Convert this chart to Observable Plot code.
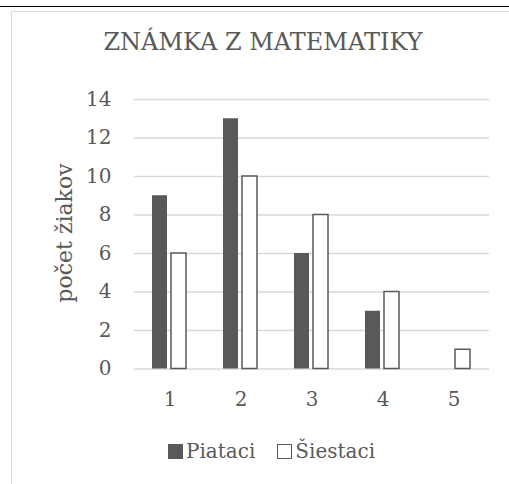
<!DOCTYPE html>
<html>
<head>
<meta charset="utf-8">
<script src="https://cdn.jsdelivr.net/npm/d3@7"></script>
<script src="https://cdn.jsdelivr.net/npm/@observablehq/plot@0.6"></script>
<style>
  html, body { margin: 0; padding: 0; background: #fff; overflow: hidden; }
  #wrap { position: relative; width: 509px; height: 484px; overflow: hidden; font-family: "DejaVu Serif", serif; color: #595959; }
  #topline { position: absolute; left: 0; top: 6px; width: 509px; height: 0; border-top: 1.6px solid #000; }
  #frame { position: absolute; left: 11px; top: 11px; width: 498px; height: 473px; border-left: 1.5px solid #d9d9d9; border-top: 1.5px solid #d9d9d9; box-sizing: border-box; }
  #chart { position: absolute; left: 0; top: 0; }
  #overlay { position: absolute; left: 0; top: 0; }
  #legend { position: absolute; left: 168px; top: 441px; font-size: 20px; line-height: 20px; white-space: nowrap; display: flex; align-items: center; }
  .sw { display: inline-block; width: 15px; height: 15px; box-sizing: border-box; margin-right: 3px; }
  .item { display: flex; align-items: center; margin-right: 22px; }
</style>
</head>
<body>
<div id="wrap">
  <div id="topline"></div>
  <div id="frame"></div>
  <div id="chart"></div>
  <svg id="overlay" width="509" height="484" style="font-family:'DejaVu Serif', serif; fill:#595959">
    <text id="title" x="263" y="50" text-anchor="middle" font-size="24"></text>
    <text id="ylabel" x="0" y="0" text-anchor="middle" font-size="22" transform="translate(72,233) rotate(-90)"></text>
  </svg>
  <div id="legend"></div>
</div>
<script>
const titleText = "ZNÁMKA Z MATEMATIKY";
const yLabelText = "počet žiakov";
const categories = ["1", "2", "3", "4", "5"];
const seriesNames = ["Piataci", "Šiestaci"];
const piataci = [9, 13, 6, 3, 0];
const siestaci = [6, 10, 8, 4, 1];
const yTicks = [0, 2, 4, 6, 8, 10, 12, 14];
const seriesFill = ["#595959", "#ffffff"];
const seriesStroke = ["none", "#595959"];

const table = [];
categories.forEach((c, i) => {
  table.push({cat: c, series: seriesNames[0], value: piataci[i]});
  table.push({cat: c, series: seriesNames[1], value: siestaci[i]});
});

const plot = Plot.plot({
  width: 509,
  height: 430,
  marginTop: 99,
  marginBottom: 61.5,
  marginLeft: 132,
  marginRight: 19,
  style: {fontFamily: "'DejaVu Serif', serif", fontSize: "20px", color: "#595959", background: "transparent", overflow: "visible"},
  facet: {data: table, x: "cat"},
  fx: {domain: categories, padding: 0, axis: "bottom", tickSize: 0, tickPadding: 23, label: null},
  x: {domain: seriesNames, paddingInner: 0.2, paddingOuter: 0.89, axis: null},
  y: {domain: [0, 14], ticks: yTicks, tickSize: 0, tickPadding: 23, label: null, tickFormat: d => String(d)},
  color: {domain: seriesNames, range: seriesFill},
  marks: [
    Plot.ruleY(yTicks, {stroke: "#d9d9d9", strokeWidth: 1.5}),
    Plot.barY(table, {
      x: "series", y: "value", fill: "series",
      stroke: d => d.series === seriesNames[1] ? seriesStroke[1] : seriesStroke[0],
      strokeWidth: 1.5
    })
  ]
});
document.getElementById("chart").appendChild(plot);

document.getElementById("title").textContent = titleText;
document.getElementById("ylabel").textContent = yLabelText;

const legend = document.getElementById("legend");
seriesNames.forEach((name, i) => {
  const item = document.createElement("span");
  item.className = "item";
  const sw = document.createElement("span");
  sw.className = "sw";
  sw.style.background = seriesFill[i];
  if (seriesStroke[i] !== "none") sw.style.border = "1.5px solid " + seriesStroke[i];
  item.appendChild(sw);
  item.appendChild(document.createTextNode(name));
  legend.appendChild(item);
});
</script>
</body>
</html>
